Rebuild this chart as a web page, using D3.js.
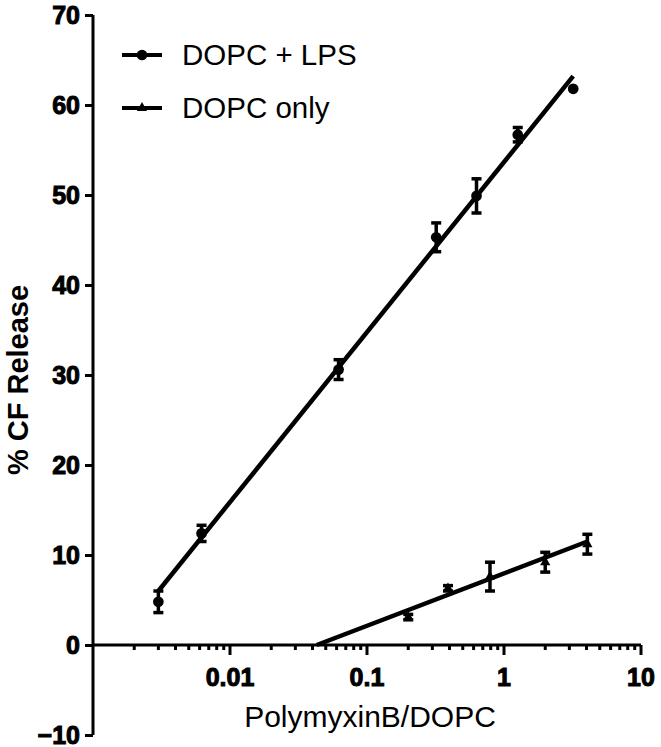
<!DOCTYPE html>
<meta charset="utf-8">
<style>
body { margin: 0; background: #fff; }
text { font-family: "Liberation Sans", Arial, sans-serif; fill: #000; }
.tick-label { font-weight: bold; font-size: 25px; stroke: #000; stroke-width: 1px; }
</style>
<svg width="661" height="747"></svg>
<script src="https://cdn.jsdelivr.net/npm/d3@7"></script>
<script>

// DOPC + LPS
var lpsX   = [0.003, 0.0062, 0.062, 0.32, 0.63, 1.26, 3.2];
var lpsY   = [4.8, 12.4, 30.6, 45.3, 49.9, 56.7, 61.8];
var lpsErr = [1.2, 0.9, 1.1, 1.6, 1.9, 0.8, 0];
var lpsFit = [[0.003, 6.0], [3.2, 63.2]];

// DOPC only
var dopcX   = [0.2, 0.39, 0.79, 2.0, 4.06];
var dopcY   = [3.1, 6.3, 7.6, 9.2, 11.2];
var dopcErr = [0.3, 0.3, 1.6, 1.1, 1.1];
var dopcFit = [[0.043, 0], [4.06, 11.5]];

var xTickValues = [0.01, 0.1, 1, 10];
var xTickLabels = ["0.01", "0.1", "1", "10"];
var yTickValues = [-10, 0, 10, 20, 30, 40, 50, 60, 70];
var legendNames = ["DOPC + LPS", "DOPC only"];

var svg = d3.select("svg");

var x = d3.scaleLog().domain([0.001, 10]).range([93, 641]);
var y = d3.scaleLinear().domain([-10, 70]).range([735, 15]);

// y axis
var yAxis = svg.append("g").attr("transform", "translate(93,0)")
    .call(d3.axisLeft(y).tickValues(yTickValues).tickSize(8).tickPadding(5).tickFormat(d3.format("d")));
yAxis.select(".domain").attr("stroke-width", 3).attr("d", "M0," + y(-10) + "V" + y(70));
yAxis.selectAll(".tick line").attr("stroke-width", 3);
yAxis.selectAll(".tick text").attr("class", "tick-label").attr("font-size", null).attr("font-family", null);

// x axis (at y = 0), minor ticks
var minor = [];
for (var e = -3; e < 1; e++) for (var m = 2; m <= 9; m++) minor.push(m * Math.pow(10, e));

var xg = svg.append("g").attr("transform", "translate(0," + y(0) + ")");
xg.append("line").attr("x1", 93).attr("x2", x(10)).attr("stroke", "#000").attr("stroke-width", 3);
xg.selectAll(".minor").data(minor).enter().append("line")
    .attr("x1", d => x(d)).attr("x2", d => x(d)).attr("y1", 0).attr("y2", 5)
    .attr("stroke", "#000").attr("stroke-width", 3);
xg.selectAll(".major").data(xTickValues).enter().append("line")
    .attr("x1", d => x(d)).attr("x2", d => x(d)).attr("y1", 0).attr("y2", 10)
    .attr("stroke", "#000").attr("stroke-width", 3);
xg.selectAll(".xlab").data(xTickValues).enter().append("text")
    .attr("class", "tick-label")
    .attr("x", d => x(d)).attr("y", 41).attr("text-anchor", "middle")
    .text((d, i) => xTickLabels[i]);

// axis titles
svg.append("text").attr("x", 370).attr("y", 727).attr("text-anchor", "middle")
    .attr("font-size", 30).text("PolymyxinB/DOPC");
svg.append("text").attr("transform", "translate(28,380) rotate(-90)").attr("text-anchor", "middle")
    .attr("font-size", 29).attr("font-weight", "bold").text("% CF Release");

// fit lines
var line = d3.line().x(d => x(d[0])).y(d => y(d[1]));
[lpsFit, dopcFit].forEach(function(f) {
  svg.append("path").attr("d", line(f)).attr("fill", "none")
      .attr("stroke", "#000").attr("stroke-width", 4.5);
});

function drawSeries(xs, ys, errs, symbol) {
  var pts = xs.map((v, i) => ({x: v, y: ys[i], e: errs[i]}));
  var g = svg.append("g");
  var eb = g.selectAll(".eb").data(pts.filter(d => d.e > 0)).enter().append("g");
  eb.append("line").attr("x1", d => x(d.x)).attr("x2", d => x(d.x))
      .attr("y1", d => y(d.y - d.e)).attr("y2", d => y(d.y + d.e))
      .attr("stroke", "#000").attr("stroke-width", 3.5);
  [-1, 1].forEach(function(s) {
    eb.append("line").attr("x1", d => x(d.x) - 5).attr("x2", d => x(d.x) + 5)
        .attr("y1", d => y(d.y + s * d.e)).attr("y2", d => y(d.y + s * d.e))
        .attr("stroke", "#000").attr("stroke-width", 3.5);
  });
  g.selectAll(".pt").data(pts).enter().append("path")
      .attr("d", symbol)
      .attr("transform", d => "translate(" + x(d.x) + "," + y(d.y) + ")")
      .attr("fill", "#000");
}

var circleSym = d3.symbol().type(d3.symbolCircle).size(90)();
var triSym = d3.symbol().type(d3.symbolTriangle).size(45)();
drawSeries(lpsX, lpsY, lpsErr, circleSym);
drawSeries(dopcX, dopcY, dopcErr, triSym);

// legend
var legend = svg.append("g");
legendNames.forEach(function(name, i) {
  var ly = 55 + i * 53;
  legend.append("line").attr("x1", 122).attr("x2", 162).attr("y1", ly).attr("y2", ly)
      .attr("stroke", "#000").attr("stroke-width", 4);
  legend.append("path").attr("d", i === 0 ? circleSym : triSym)
      .attr("transform", "translate(142," + ly + ")");
  legend.append("text").attr("x", 182).attr("y", ly + 10).attr("font-size", 29.5).text(name);
});

</script>
